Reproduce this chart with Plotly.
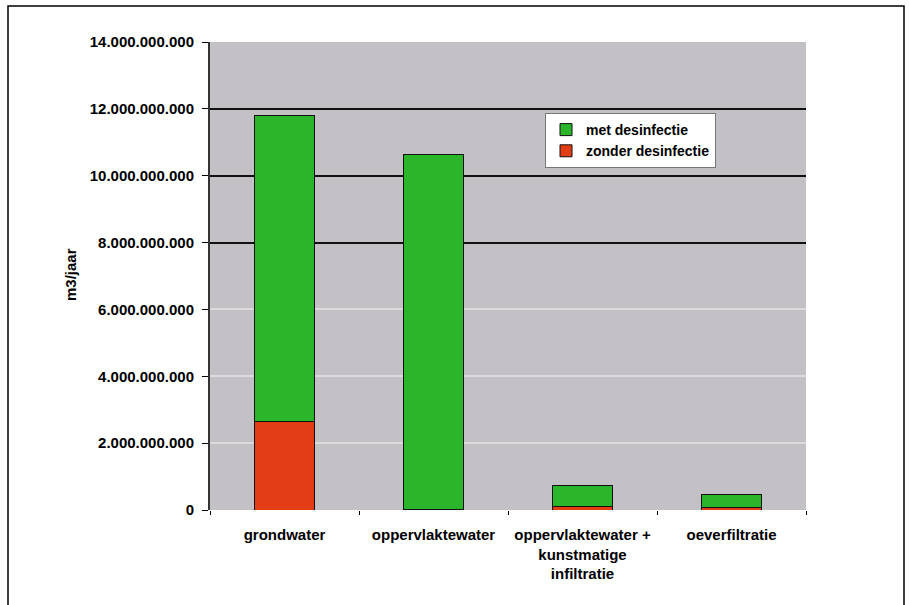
import plotly.graph_objects as go

categories = ["grondwater", "oppervlaktewater", "oppervlaktewater +<br>kunstmatige<br>infiltratie", "oeverfiltratie"]
zonder_desinfectie = [2.65e9, 0.03e9, 0.10e9, 0.06e9]
met_desinfectie = [9.16e9, 10.60e9, 0.63e9, 0.41e9]
y_ticks = [0, 2e9, 4e9, 6e9, 8e9, 10e9, 12e9, 14e9]

FONT = "Liberation Sans, Arial, sans-serif"
W, H = 909, 605
L, R, T, B = 210, 103, 42, 95
pw, ph = W - L - R, H - T - B

fig = go.Figure()
fig.add_trace(go.Bar(name="zonder desinfectie", x=categories, y=zonder_desinfectie,
                     marker=dict(color="#e23d14", line=dict(color="#111111", width=1))))
fig.add_trace(go.Bar(name="met desinfectie", x=categories, y=met_desinfectie,
                     marker=dict(color="#2bb52a", line=dict(color="#111111", width=1))))

fig.update_layout(
    width=W, height=H,
    margin=dict(l=L, r=R, t=T, b=B, autoexpand=False),
    barmode="stack", bargap=0.6,
    separators=",.",
    paper_bgcolor="white", plot_bgcolor="#c3c1c5",
    font=dict(family=FONT, size=13, color="black"),
    showlegend=True,
    legend=dict(x=(545 - L) / pw, y=(H - B - 113) / ph, xanchor="left", yanchor="top",
                traceorder="reversed", bgcolor="white", bordercolor="#777777", borderwidth=1,
                font=dict(family=FONT, size=14, color="black", weight="bold"), itemwidth=30,
                tracegroupgap=0),
    xaxis=dict(showgrid=False, showline=False, ticks="outside", ticklen=4, tickcolor="black",
               tickson="boundaries", tickfont=dict(family=FONT, size=15, color="black", weight="bold"),
               ticklabelstandoff=14, zeroline=False),
    yaxis=dict(range=[0, 14e9], tickvals=y_ticks, tickformat=",d", showgrid=False,
               showline=True, linecolor="#333333", linewidth=2, ticks="outside", ticklen=6,
               tickcolor="black", tickfont=dict(family=FONT, size=15, color="black", weight="bold"),
               ticklabelstandoff=5, zeroline=False),
    yaxis2=dict(range=[0, 14e9], overlaying="y", tickvals=[8e9, 10e9, 12e9], showticklabels=False,
                showgrid=True, gridcolor="#111111", gridwidth=2, ticks="", showline=False, zeroline=False),
    yaxis3=dict(range=[0, 14e9], overlaying="y", tickvals=[2e9, 4e9, 6e9], showticklabels=False,
                showgrid=True, gridcolor="#dcdadd", gridwidth=1.5, ticks="", showline=False, zeroline=False),
    yaxis4=dict(range=[0, 14e9], overlaying="y", tickvals=[14e9], showticklabels=False,
                showgrid=True, gridcolor="#7a7a7a", gridwidth=2, ticks="", showline=False, zeroline=False),
    annotations=[dict(text="m3/jaar", textangle=-90, xref="paper", yref="paper",
                      x=(70 - L) / pw, y=(H - B - 275) / ph, xanchor="center", yanchor="middle",
                      showarrow=False, font=dict(family=FONT, size=15, color="black", weight="bold"))],
    shapes=[dict(type="rect", xref="paper", yref="paper",
                 x0=(8 - L) / pw, x1=(904 - L) / pw, y0=(H - B - 640) / ph, y1=(H - B - 6) / ph,
                 line=dict(color="black", width=1.5), fillcolor="rgba(0,0,0,0)", layer="below")],
)
# invisible helper traces so the overlay axes draw their gridlines
for ax in ["y2", "y3", "y4"]:
    fig.add_trace(go.Scatter(x=[categories[0]], y=[0], yaxis=ax, mode="markers",
                             marker=dict(opacity=0), showlegend=False, hoverinfo="skip"))

fig.write_html("out.html")
